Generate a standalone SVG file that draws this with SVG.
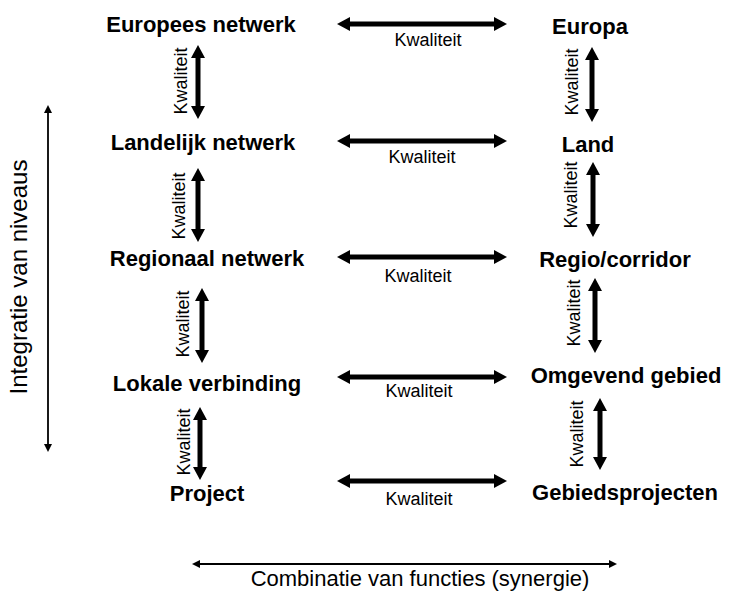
<svg xmlns="http://www.w3.org/2000/svg" width="730" height="605" viewBox="0 0 730 605">
<style>
.node{font-family:"Liberation Sans",Arial,sans-serif;font-weight:bold;font-size:22px;fill:#000;text-anchor:middle}
.lbl{font-family:"Liberation Sans",Arial,sans-serif;font-size:18px;fill:#000;text-anchor:middle}
.axis{font-family:"Liberation Sans",Arial,sans-serif;font-size:22px;fill:#000;text-anchor:middle}
.thick{stroke:#000;stroke-width:5;fill:none;marker-start:url(#hb);marker-end:url(#hb)}
.thin{stroke:#000;stroke-width:1.8;fill:none;marker-start:url(#hs);marker-end:url(#hs)}
</style>
<defs>
<marker id="hb" markerUnits="userSpaceOnUse" markerWidth="13" markerHeight="14" refX="2" refY="7" orient="auto-start-reverse">
<path d="M0,0 L13,7 L0,14 z" fill="#000"/>
</marker>
<marker id="hs" markerUnits="userSpaceOnUse" markerWidth="8" markerHeight="8" refX="2" refY="4" orient="auto-start-reverse">
<path d="M0,0 L8,4 L0,8 z" fill="#000"/>
</marker>
</defs>

<g id="n-europees"><text class="node" x="201" y="32">Europees netwerk</text></g>
<g id="n-landelijk"><text class="node" x="203" y="150">Landelijk netwerk</text></g>
<g id="n-regionaal"><text class="node" x="207" y="266">Regionaal netwerk</text></g>
<g id="n-lokale"><text class="node" x="207" y="391">Lokale verbinding</text></g>
<g id="n-project"><text class="node" x="207" y="501">Project</text></g>

<g id="n-europa"><text class="node" x="590" y="34">Europa</text></g>
<g id="n-land"><text class="node" x="588" y="152">Land</text></g>
<g id="n-regio"><text class="node" x="615" y="267">Regio/corridor</text></g>
<g id="n-omgevend"><text class="node" x="626" y="383">Omgevend gebied</text></g>
<g id="n-gebied"><text class="node" x="625" y="500">Gebiedsprojecten</text></g>

<g id="connectors">
<line class="thick" x1="348" y1="24" x2="496" y2="24"/>
<line class="thick" x1="348" y1="141" x2="496" y2="141"/>
<line class="thick" x1="348" y1="257" x2="496" y2="257"/>
<line class="thick" x1="348" y1="377" x2="496" y2="377"/>
<line class="thick" x1="348" y1="481" x2="496" y2="481"/>
<line class="thick" x1="198" y1="56" x2="198" y2="108"/>
<line class="thick" x1="198" y1="179" x2="198" y2="231"/>
<line class="thick" x1="202" y1="299" x2="202" y2="352"/>
<line class="thick" x1="200" y1="418" x2="200" y2="469"/>
<line class="thick" x1="592" y1="58" x2="592" y2="111"/>
<line class="thick" x1="593" y1="173" x2="593" y2="226"/>
<line class="thick" x1="595" y1="289" x2="595" y2="342"/>
<line class="thick" x1="600" y1="409" x2="600" y2="459"/>
<line class="thin" x1="48" y1="111" x2="48" y2="446"/>
<line class="thin" x1="198" y1="564" x2="611" y2="564"/>

<text class="lbl" x="428" y="46">Kwaliteit</text>
<text class="lbl" x="422" y="163">Kwaliteit</text>
<text class="lbl" x="418" y="282">Kwaliteit</text>
<text class="lbl" x="419" y="397">Kwaliteit</text>
<text class="lbl" x="419" y="505">Kwaliteit</text>

<text class="lbl" transform="translate(187,81) rotate(-90)">Kwaliteit</text>
<text class="lbl" transform="translate(185,206) rotate(-90)">Kwaliteit</text>
<text class="lbl" transform="translate(189,324) rotate(-90)">Kwaliteit</text>
<text class="lbl" transform="translate(190,442) rotate(-90)">Kwaliteit</text>

<text class="lbl" transform="translate(578,82) rotate(-90)">Kwaliteit</text>
<text class="lbl" transform="translate(577,195) rotate(-90)">Kwaliteit</text>
<text class="lbl" transform="translate(580,313) rotate(-90)">Kwaliteit</text>
<text class="lbl" transform="translate(583,434) rotate(-90)">Kwaliteit</text>
</g>

<text class="axis" style="font-size:24px" transform="translate(27,277) rotate(-90)">Integratie van niveaus</text>
<text class="axis" x="420" y="586">Combinatie van functies (synergie)</text>
</svg>
